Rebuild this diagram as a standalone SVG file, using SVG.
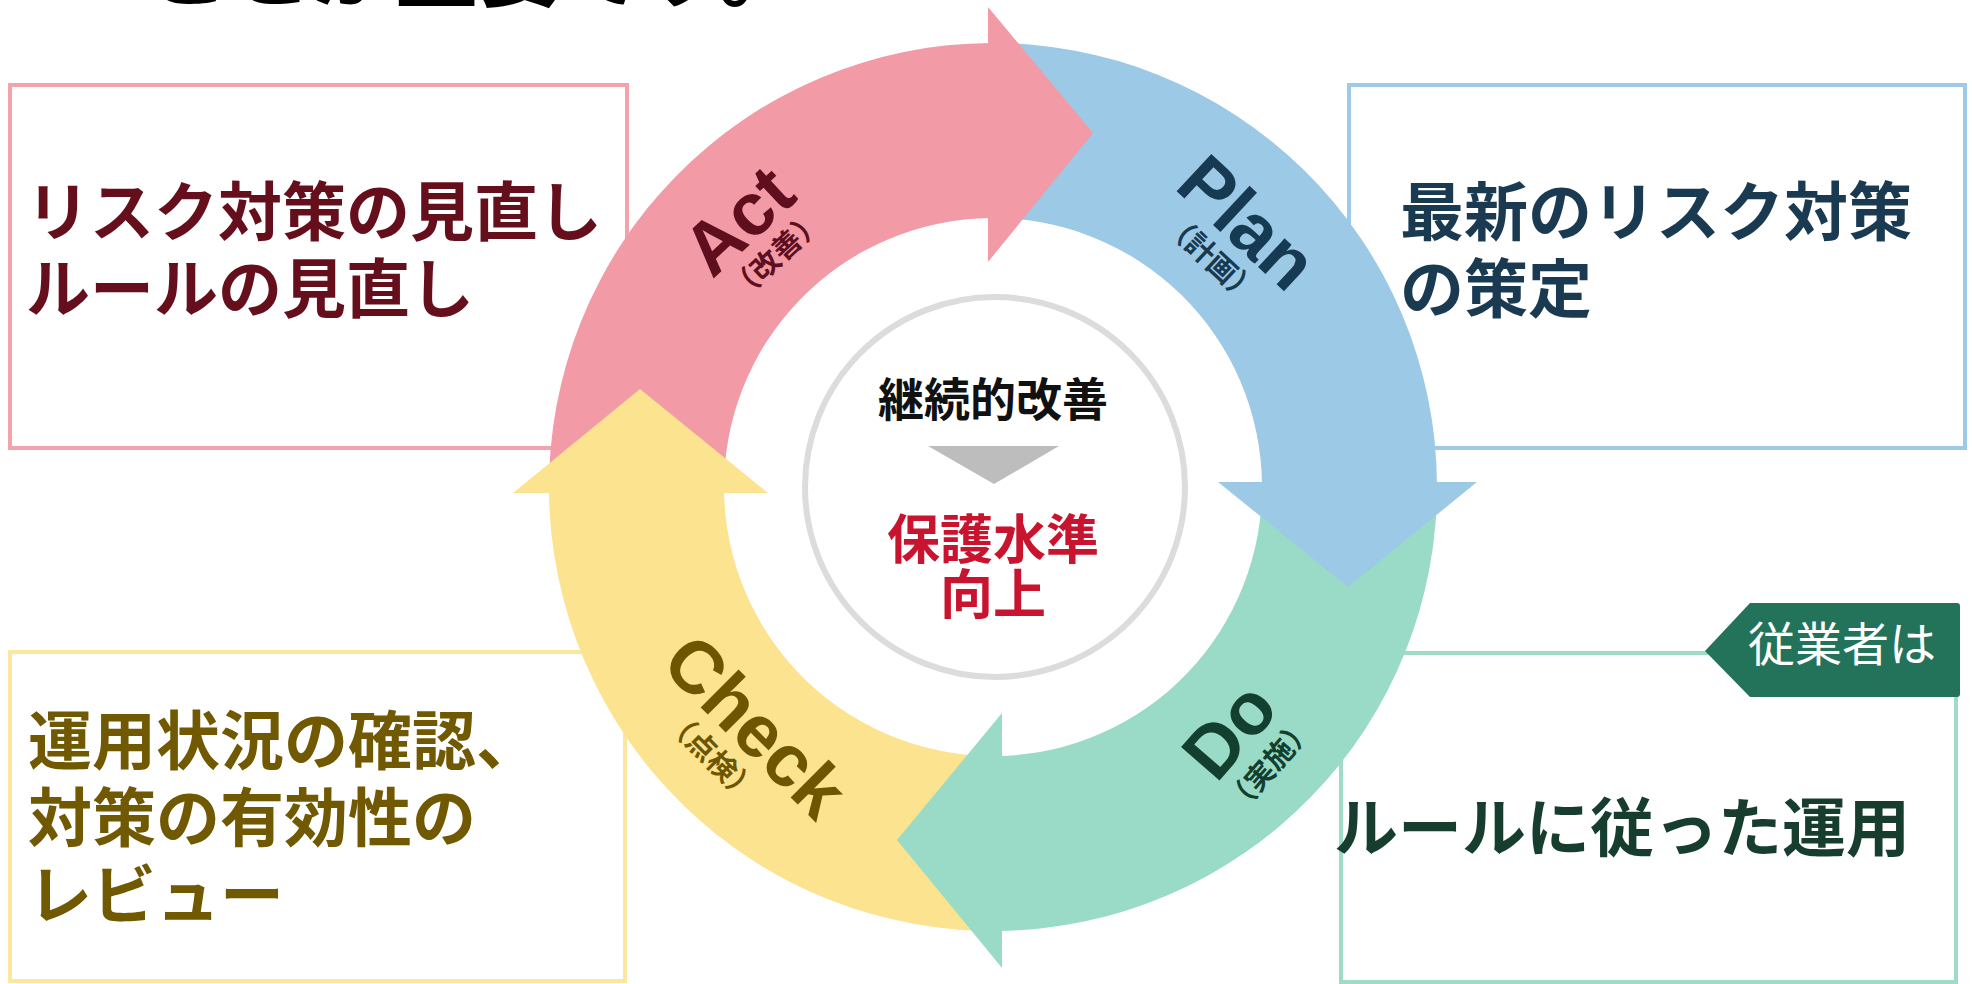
<svg xmlns="http://www.w3.org/2000/svg" width="1972" height="984" viewBox="0 0 1972 984">
<style>
.jp{font-family:"Noto Sans CJK JP","Noto Sans CJK SC",sans-serif;font-weight:700}
.box{fill:#fff;stroke-width:4}
.lbl{font-family:"Liberation Sans","Noto Sans",sans-serif;font-weight:700;font-size:74px;text-anchor:middle}
.sub{font-family:"Noto Sans CJK JP",sans-serif;font-weight:700;font-size:29px;text-anchor:middle}
.big{font-size:64px}
</style>
<rect width="1972" height="984" fill="#fff"/>
<text class="jp" x="146" y="0" font-size="83" fill="#000">ことが重要です。</text>

<g id="box-act">
<rect class="box" x="10" y="85" width="617" height="363" stroke="#F4A3AD"/>
<text class="jp big" x="26" y="235" fill="#650F1D">リスク対策の見直し</text>
<text class="jp big" x="26" y="312" fill="#650F1D">ルールの見直し</text>
</g>
<g id="box-plan">
<rect class="box" x="1349" y="85" width="616" height="363" stroke="#9DCBE7"/>
<text class="jp big" x="1400" y="235" fill="#1A3A52">最新のリスク対策</text>
<text class="jp big" x="1400" y="312" fill="#1A3A52">の策定</text>
</g>
<g id="box-check">
<rect class="box" x="10" y="652" width="615" height="329" stroke="#FCE6A0"/>
<text class="jp big" x="28" y="764" fill="#705900">運用状況の確認、</text>
<text class="jp big" x="28" y="841" fill="#705900">対策の有効性の</text>
<text class="jp big" x="28" y="918" fill="#705900">レビュー</text>
</g>
<g id="box-do">
<rect class="box" x="1341" y="653" width="615" height="329" stroke="#9EDCC8"/>
</g>

<g id="cycle">
<path id="ring-act" d="M 549.04 493 A 444 444 0 0 1 991 43 L 991 218 A 269 269 0 0 0 724.07 493 Z" fill="#F29AA5"/>
<path id="ring-plan" d="M 988 43.03 A 444 444 0 0 1 1437 485 L 1262 485 A 269 269 0 0 0 988 218.05 Z" fill="#9CC9E6"/>
<path id="ring-do" d="M 1436.97 482 A 444 444 0 0 1 999 931 L 999 756 A 269 269 0 0 0 1261.95 482 Z" fill="#9ADBC7"/>
<path id="ring-check" d="M 1002 930.91 A 444 444 0 0 1 549.01 490 L 724.02 490 A 269 269 0 0 0 1002 755.85 Z" fill="#FBE38F"/>
</g>
<g id="connectors">
<polygon points="988,7 1093,133 988,262" fill="#F29AA5"/>
<polygon points="1477,482 1348,587 1218,482" fill="#9CC9E6"/>
<polygon points="1002,968 897,840 1002,713" fill="#9ADBC7"/>
<polygon points="513,493 640,389 768,493" fill="#FBE38F"/>
</g>

<g id="act" transform="translate(738,220) rotate(-43)">
<text class="lbl" x="0" y="26" fill="#5F0E1E">Act</text>
<text class="sub" x="4" y="62" fill="#5F0E1E">（改善）</text>
</g>
<g id="plan" transform="translate(1248,222) rotate(43)">
<text class="lbl" x="0" y="26" fill="#163A52">Plan</text>
<text class="sub" x="-2" y="62" fill="#163A52">（計画）</text>
</g>
<g id="do" transform="translate(1229,730) rotate(-49)">
<text class="lbl" x="0" y="26" fill="#133F2E">Do</text>
<text class="sub" x="0" y="64" fill="#133F2E">（実施）</text>
</g>
<g id="check" transform="translate(756,726) rotate(45)">
<text class="lbl" x="0" y="26" fill="#6E5600">Check</text>
<text class="sub" x="-10" y="63" fill="#6E5600">（点検）</text>
</g>

<g id="center">
<circle cx="995" cy="487" r="190" fill="#fff" stroke="#DCDCDC" stroke-width="6"/>
<text class="jp" x="993" y="416" font-size="46" text-anchor="middle" fill="#111">継続的改善</text>
<polygon points="928,446 1059,446 994,484" fill="#BDBDBD"/>
<text class="jp" x="993" y="559" font-size="53" text-anchor="middle" fill="#C8142F">保護水準</text>
<text class="jp" x="993" y="614" font-size="53" text-anchor="middle" fill="#C8142F">向上</text>
</g>

<g id="tag">
<path d="M 1705 651 L 1750 603 L 1957 603 Q 1960 603 1960 606 L 1960 694 Q 1960 697 1957 697 L 1750 697 Z" fill="#23735A"/>
<text x="1748" y="661" font-family="'Noto Sans CJK JP',sans-serif" font-weight="400" font-size="47" fill="#fff">従業者は</text>
</g>
<text id="do-text" class="jp big" x="1334" y="851" fill="#173D2F">ルールに従った運用</text>
</svg>
